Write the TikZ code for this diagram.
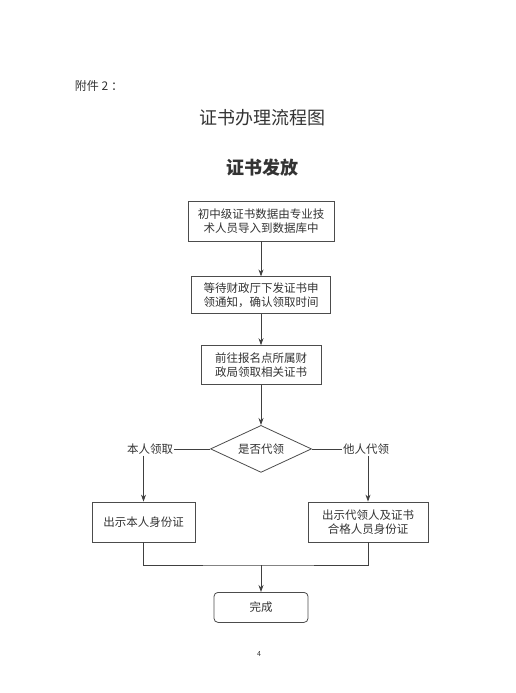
\documentclass[tikz,border=0pt]{standalone}
\usepackage{fontspec}
\setmainfont{Noto Sans CJK SC}
\usepackage{tikz}
\usetikzlibrary{shapes.geometric}
\usetikzlibrary{arrows.meta,positioning,calc}

\begin{document}
\begin{tikzpicture}[
    x=1pt, y=1pt,
    >={Stealth[length=7pt,width=5pt]},
    line width=0.8pt,
    every node/.style={font=\fontsize{11.5}{14}\selectfont, text=black!80},
    stepbox/.style={
        draw=black!70,
        rectangle,
        align=center,
        inner sep=2pt,
        minimum height=39pt
    },
    choice/.style={
        draw=black!70,
        diamond,
        aspect=2.15,
        inner sep=0pt,
        minimum width=101pt,
        minimum height=47pt
    },
    endbox/.style={
        draw=black!70,
        rectangle,
        rounded corners=4pt,
        minimum width=94pt,
        minimum height=30pt
    },
    branch/.style={inner sep=1pt},
    link/.style={draw=black!75}
]

\useasboundingbox (0,0) rectangle (516,-693);

% ==========================================================
% HEADINGS
% ==========================================================
\node[font=\fontsize{12}{14}\selectfont] (annex) at (99,-86) {附件 2 ：};
\node[font=\fontsize{18}{22}\selectfont] (title) at (262,-118) {证书办理流程图};
\node[font=\fontsize{18}{22}\selectfont\bfseries] (subtitle) at (262,-168) {证书发放};

% ==========================================================
% MAIN STEPS
% ==========================================================
\node[stepbox, minimum width=146pt, minimum height=40pt] (import) at (261,-221)
    {初中级证书数据由专业技\\术人员导入到数据库中};
\node[stepbox, minimum width=139pt, minimum height=37pt, below=35pt of import] (notice)
    {等待财政厅下发证书申\\领通知，确认领取时间};
\node[stepbox, minimum width=120pt, below=31pt of notice] (bureau)
    {前往报名点所属财\\政局领取相关证书};
\node[choice, below=40pt of bureau] (proxy) {是否代领};

% ==========================================================
% BRANCHES
% ==========================================================
\node[branch] (self) at (150,0 |- proxy) {本人领取};
\node[branch] (other) at (366,0 |- proxy) {他人代领};

\node[stepbox, minimum width=103pt, minimum height=40pt] (ownid) at (143.5,-522)
    {出示本人身份证};
\node[stepbox, minimum width=120pt, minimum height=40pt] (agentid) at (368,-522)
    {出示代领人及证书\\合格人员身份证};

\coordinate (join) at (261,-565);
\node[endbox, below=27pt of join] (done) {完成};

\node[font=\fontsize{7}{8}\selectfont] (page) at (259,-654) {4};

% ==========================================================
% CONNECTIONS
% ==========================================================
\draw[link, ->] (import) -- (notice);
\draw[link, ->] (notice) -- (bureau);
\draw[link, ->] (bureau) -- (proxy);

% Branch lines
\draw[link] (proxy.west) -- (self.east);
\draw[link] (proxy.east) -- (other.west);
\draw[link, ->] (self.south -| ownid.north) -- (ownid.north);
\draw[link, ->] (other.south -| agentid.north) -- (agentid.north);

% Merge
\draw[link] (ownid.south) |- (join) -| (agentid.south);
\draw[link, ->] (join) -- (done);

\end{tikzpicture}
\end{document}
